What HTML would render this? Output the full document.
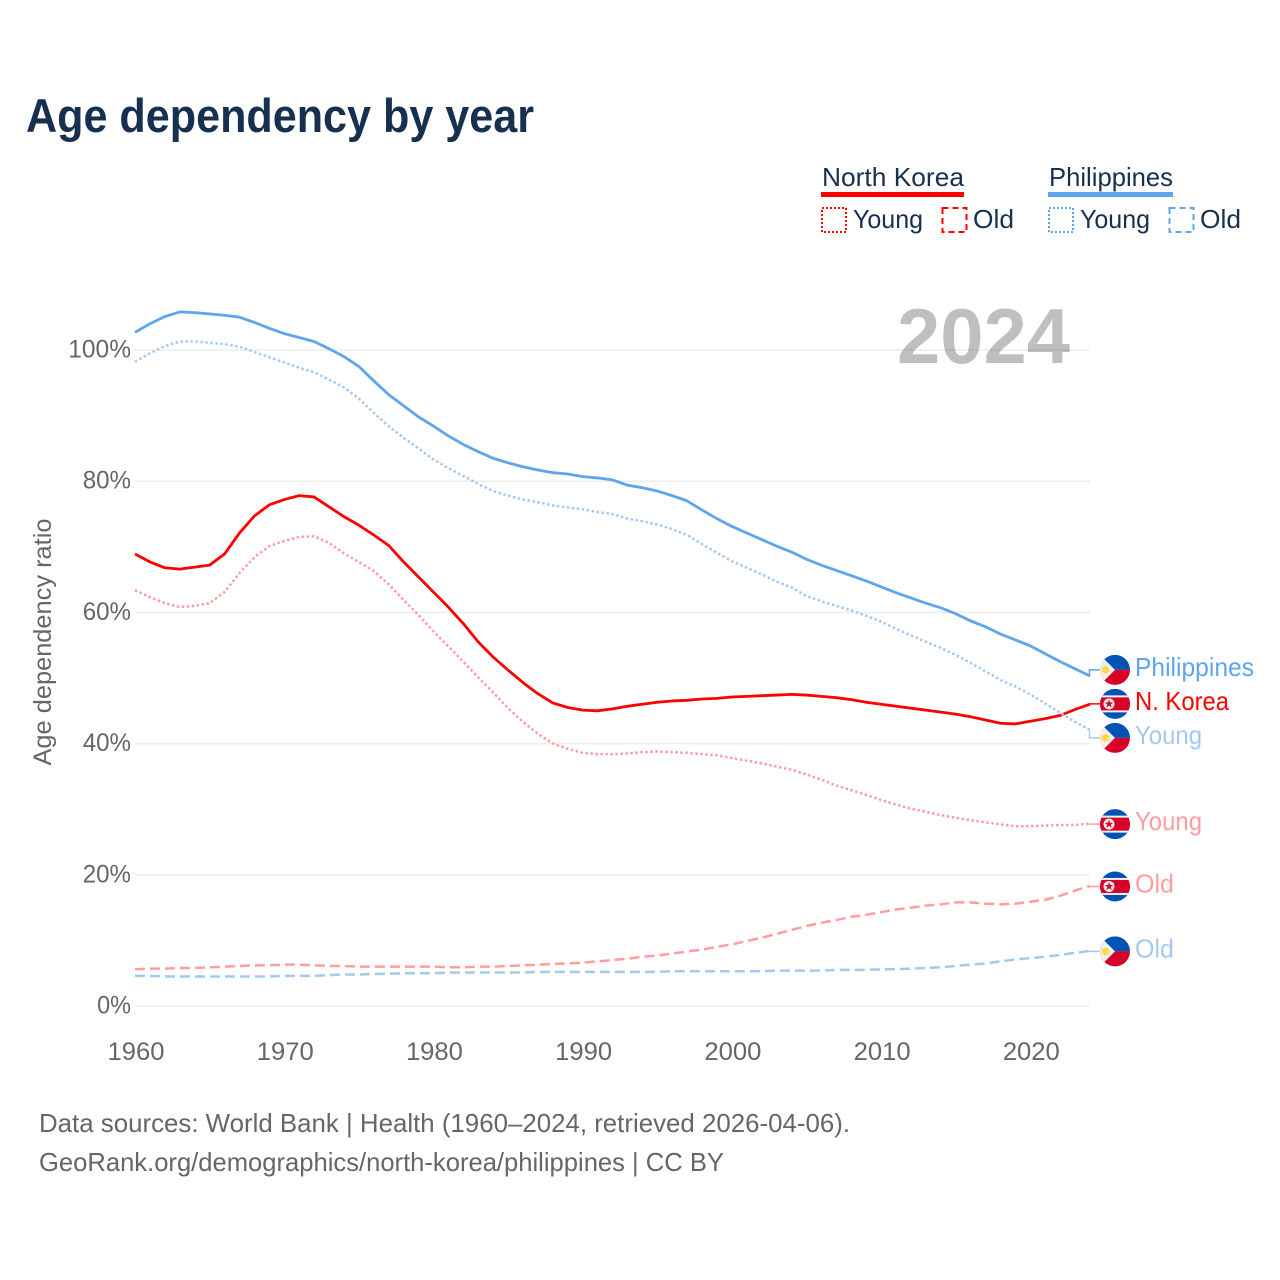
<!DOCTYPE html>
<html lang="en">
<head>
<meta charset="utf-8">
<title>Age dependency by year</title>
<style>
html,body{margin:0;padding:0;background:#fff;width:1280px;height:1280px;overflow:hidden}
svg{display:block}
text{font-family:"Liberation Sans",sans-serif}
</style>
</head>
<body>
<svg id="chart" xmlns="http://www.w3.org/2000/svg" width="1280" height="1280" viewBox="0 0 1280 1280">
  <rect x="0" y="0" width="1280" height="1280" fill="#fff"/>
  <text x="26" y="132" font-size="47" font-weight="700" fill="#17304f" textLength="508" lengthAdjust="spacingAndGlyphs">Age dependency by year</text>

  <g fill="#17304f" font-size="26">
    <g>
      <text x="822" y="186" textLength="142" lengthAdjust="spacingAndGlyphs">North Korea</text>
      <rect x="821" y="192" width="143" height="5" fill="#ff0000"/>
      <rect x="822" y="208" width="24" height="24" fill="none" stroke="#ff0000" stroke-width="2" stroke-dasharray="2 2"/>
      <text x="853" y="228" textLength="70" lengthAdjust="spacingAndGlyphs">Young</text>
      <rect x="942.500" y="208" width="24" height="24" fill="none" stroke="#ff0000" stroke-width="2" stroke-dasharray="6 4"/>
      <text x="973" y="228" textLength="41" lengthAdjust="spacingAndGlyphs">Old</text>
    </g>
    <g>
      <text x="1049" y="186" textLength="124" lengthAdjust="spacingAndGlyphs">Philippines</text>
      <rect x="1048" y="192" width="125" height="5" fill="#5ea5ee"/>
      <rect x="1049" y="208" width="24" height="24" fill="none" stroke="#5ea5ee" stroke-width="2" stroke-dasharray="2 2"/>
      <text x="1080" y="228" textLength="70" lengthAdjust="spacingAndGlyphs">Young</text>
      <rect x="1169.500" y="208" width="24" height="24" fill="none" stroke="#5ea5ee" stroke-width="2" stroke-dasharray="6 4"/>
      <text x="1200" y="228" textLength="41" lengthAdjust="spacingAndGlyphs">Old</text>
    </g>
  </g>

  <g id="grid"></g>
  <text x="897" y="363" font-size="78" font-weight="700" fill="#000" fill-opacity="0.25" textLength="173" lengthAdjust="spacingAndGlyphs">2024</text>
  <g id="yticks" font-size="25" fill="#666"></g>
  <g id="xticks" font-size="25" fill="#666"></g>
  <text transform="translate(51 642) rotate(-90)" text-anchor="middle" font-size="25" fill="#666" textLength="247" lengthAdjust="spacingAndGlyphs">Age dependency ratio</text>
  <g id="series" fill="none"></g>
  <g id="endlabels"></g>

  <g font-size="26" fill="#666">
    <text x="39" y="1132" textLength="811" lengthAdjust="spacingAndGlyphs">Data sources: World Bank | Health (1960–2024, retrieved 2026-04-06).</text>
    <text x="39" y="1171" textLength="685" lengthAdjust="spacingAndGlyphs">GeoRank.org/demographics/north-korea/philippines | CC BY</text>
  </g>
</svg>

<script>
const firstYear = 1960;
const lastYear = 2024;
const yTickValues = [0, 20, 40, 60, 80, 100];
const xTickValues = [1960, 1970, 1980, 1990, 2000, 2010, 2020];

const philippinesTotal = [102.7,104.0,105.1,105.8,105.7,105.5,105.3,105.0,104.2,103.3,102.5,101.9,101.3,100.2,99.0,97.5,95.3,93.2,91.5,89.8,88.4,86.9,85.6,84.5,83.5,82.8,82.2,81.7,81.3,81.1,80.7,80.5,80.2,79.4,79.0,78.5,77.8,77.0,75.6,74.3,73.1,72.1,71.1,70.1,69.2,68.1,67.2,66.4,65.6,64.8,63.9,63.0,62.2,61.4,60.7,59.8,58.7,57.8,56.7,55.8,54.9,53.7,52.5,51.4,50.3];
const philippinesYoung = [98.2,99.5,100.6,101.3,101.3,101.1,100.9,100.5,99.7,98.9,98.1,97.3,96.6,95.5,94.3,92.6,90.4,88.4,86.6,85.0,83.3,82.0,80.8,79.6,78.5,77.8,77.2,76.8,76.3,76.0,75.7,75.3,75.0,74.3,73.9,73.4,72.7,71.8,70.4,69.1,67.8,66.8,65.8,64.7,63.8,62.5,61.7,61.0,60.3,59.5,58.6,57.5,56.5,55.5,54.6,53.5,52.3,51.0,49.7,48.7,47.5,46.1,44.7,43.3,42.1];
const philippinesOld = [4.6,4.6,4.5,4.5,4.5,4.5,4.5,4.5,4.5,4.5,4.6,4.6,4.6,4.7,4.8,4.8,4.9,4.9,5.0,5.0,5.0,5.1,5.1,5.1,5.1,5.1,5.1,5.2,5.2,5.2,5.2,5.2,5.2,5.2,5.2,5.2,5.3,5.3,5.3,5.3,5.3,5.3,5.3,5.4,5.4,5.4,5.4,5.5,5.5,5.5,5.6,5.6,5.7,5.8,5.9,6.1,6.3,6.5,6.8,7.1,7.3,7.5,7.8,8.1,8.4];
const koreaTotal = [68.9,67.7,66.8,66.6,66.9,67.2,68.9,72.1,74.7,76.4,77.2,77.8,77.6,76.1,74.6,73.3,71.8,70.2,67.7,65.4,63.1,60.8,58.3,55.5,53.2,51.2,49.3,47.6,46.2,45.5,45.1,45.0,45.3,45.7,46.0,46.3,46.5,46.6,46.8,46.9,47.1,47.2,47.3,47.4,47.5,47.4,47.2,47.0,46.7,46.3,46.0,45.7,45.4,45.1,44.8,44.5,44.1,43.6,43.1,43.0,43.4,43.8,44.3,45.2,46.0];
const koreaYoung = [63.4,62.3,61.4,60.8,61.0,61.4,63.1,66.0,68.4,70.1,70.9,71.5,71.6,70.6,69.0,67.7,66.3,64.3,61.9,59.6,57.1,54.8,52.5,50.1,47.8,45.4,43.3,41.5,40.0,39.2,38.6,38.4,38.4,38.5,38.7,38.8,38.7,38.6,38.4,38.2,37.8,37.4,37.0,36.5,36.0,35.3,34.5,33.6,32.9,32.2,31.4,30.7,30.1,29.6,29.1,28.7,28.3,28.0,27.7,27.4,27.4,27.5,27.6,27.6,27.8];
const koreaOld = [5.6,5.7,5.7,5.8,5.8,5.9,6.0,6.1,6.2,6.2,6.3,6.3,6.2,6.1,6.1,6.0,6.0,6.0,6.0,6.0,6.0,5.9,5.9,6.0,6.0,6.1,6.2,6.3,6.4,6.5,6.6,6.8,7.0,7.2,7.5,7.7,8.0,8.3,8.6,9.0,9.4,9.9,10.4,11.0,11.6,12.2,12.7,13.1,13.6,13.9,14.3,14.7,15.0,15.3,15.5,15.8,15.8,15.6,15.5,15.6,15.9,16.2,16.8,17.6,18.3];

const NS = 'http://www.w3.org/2000/svg';
const xScale = function (year) { return 135 + (year - firstYear) * (1090 - 135) / (lastYear - firstYear); };
const yScale = function (value) { return 1006 - value * 6.56; };

function make(tag, parent, attrs, text) {
  const el = document.createElementNS(NS, tag);
  Object.keys(attrs).forEach(function (k) { el.setAttribute(k, attrs[k]); });
  if (text !== undefined) el.textContent = text;
  parent.appendChild(el);
  return el;
}

const gridGroup = document.getElementById('grid');
const yTickGroup = document.getElementById('yticks');
yTickValues.forEach(function (v) {
  const line = make('line', gridGroup, { x1: 135, x2: 1090, y1: yScale(v), y2: yScale(v), stroke: '#ececec', 'stroke-width': 1.5 });
  
  
  const label = String(v) + '%';
  const t = make('text', yTickGroup, { x: 131, y: yScale(v) + 7.5, 'text-anchor': 'end', textLength: 14.4 * String(v).length + 19.5, lengthAdjust: 'spacingAndGlyphs' }, label);
  
  
});

const xTickGroup = document.getElementById('xticks');
xTickValues.forEach(function (yr) {
  const t = make('text', xTickGroup, { x: xScale(yr) + 1, y: 1060, 'text-anchor': 'middle', textLength: 57, lengthAdjust: 'spacingAndGlyphs' }, String(yr));
  
  
});

const seriesList = [
  { key: 'philippines-total', values: philippinesTotal, color: '#5ea5ee', dash: '', label: 'Philippines', width: 119, flag: 'ph' },
  { key: 'north-korea-total', values: koreaTotal, color: '#ff0000', dash: '', label: 'N. Korea', width: 94, flag: 'kp' },
  { key: 'philippines-young', values: philippinesYoung, color: '#a3c9f3', dash: '2.500 2.500', label: 'Young', width: 67, flag: 'ph' },
  { key: 'north-korea-young', values: koreaYoung, color: '#ff9da0', dash: '2.500 2.500', label: 'Young', width: 67, flag: 'kp' },
  { key: 'north-korea-old', values: koreaOld, color: '#ff9da0', dash: '10 5', label: 'Old', width: 39, flag: 'kp' },
  { key: 'philippines-old', values: philippinesOld, color: '#a3c9f3', dash: '10 5', label: 'Old', width: 39, flag: 'ph' }
];

const seriesGroup = document.getElementById('series');
seriesList.forEach(function (s) {
  const d = s.values.map(function (v, i) {
    return (i ? 'L' : 'M') + xScale(firstYear + i).toFixed(2) + ',' + yScale(v).toFixed(2);
  }).join('');
  const p = make('path', seriesGroup, { d: d, stroke: s.color, 'stroke-width': s.dash ? 2.5 : 2.8, 'stroke-linejoin': 'round' });
  if (s.dash) p.setAttribute('stroke-dasharray', s.dash);
  
  
});

/* Spread the end labels so they never overlap: merge colliding clusters, keep each centred. */
function placeLabels(list, gap) {
  const sorted = list.slice().sort(function (a, b) { return a.end - b.end; });
  let clusters = sorted.map(function (s) { return { items: [s], mean: s.end }; });
  let merged = true;
  while (merged) {
    merged = false;
    for (let i = 0; i < clusters.length - 1; i++) {
      const a = clusters[i], b = clusters[i + 1];
      const aBottom = a.mean + (a.items.length - 1) * gap / 2;
      const bTop = b.mean - (b.items.length - 1) * gap / 2;
      if (bTop - aBottom < gap) {
        const items = a.items.concat(b.items);
        const mean = items.reduce(function (t, it) { return t + it.end; }, 0) / items.length;
        clusters.splice(i, 2, { items: items, mean: mean });
        merged = true;
        break;
      }
    }
  }
  clusters.forEach(function (c) {
    c.items.forEach(function (it, i) {
      it.labelY = c.mean + (i - (c.items.length - 1) / 2) * gap;
    });
  });
}
seriesList.forEach(function (s) { s.end = yScale(s.values[s.values.length - 1]); });
placeLabels(seriesList, 34);

const svgRoot = document.getElementById('chart');
const defs = make('defs', svgRoot, {});
make('circle', make('clipPath', defs, { id: 'flag-clip' }), { cx: 0, cy: 0, r: 15 });

function drawFlag(parent, type, cy) {
  const g = make('g', parent, { transform: 'translate(1115 ' + cy.toFixed(2) + ')', 'clip-path': 'url(#flag-clip)' });
  if (type === 'ph') {
    make('rect', g, { x: -15, y: -15, width: 30, height: 15, fill: '#0052b4' });
    make('rect', g, { x: -15, y: 0, width: 30, height: 15, fill: '#d80027' });
    make('polygon', g, { points: '-15,-15 0,0 -15,15', fill: '#f0f0f0' });
    make('circle', g, { cx: -9.500, cy: 0, r: 3.800, fill: '#ffda44' });
  } else {
    make('rect', g, { x: -15, y: -15, width: 30, height: 30, fill: '#0052b4' });
    make('rect', g, { x: -15, y: -8.500, width: 30, height: 17, fill: '#f0f0f0' });
    make('rect', g, { x: -15, y: -6.500, width: 30, height: 13, fill: '#d80027' });
    make('circle', g, { cx: -6, cy: 0, r: 5.500, fill: '#f0f0f0' });
    make('polygon', g, { points: '-6,-4.500 -4.900,-1.400 -1.700,-1.400 -4.200,0.600 -3.300,3.700 -6,1.800 -8.700,3.700 -7.800,0.600 -10.300,-1.400 -7.100,-1.400', fill: '#d80027' });
  }
  return g;
}

const labelGroup = document.getElementById('endlabels');
seriesList.forEach(function (s) {
  const leader = make('path', labelGroup, { d: 'M1089.5,' + s.end.toFixed(2) + 'V' + (s.labelY + 0.5).toFixed(2) + 'H1100', fill: 'none', stroke: s.color, 'stroke-width': 1.5 });
  
  

  const flag = drawFlag(labelGroup, s.flag, s.labelY + 0.5);
  
  

  const t = make('text', labelGroup, { x: 1135, y: s.labelY + 6.5, 'font-size': 26, fill: s.color, textLength: s.width, lengthAdjust: 'spacingAndGlyphs' }, s.label);
  
  
});
</script>
</body>
</html>
